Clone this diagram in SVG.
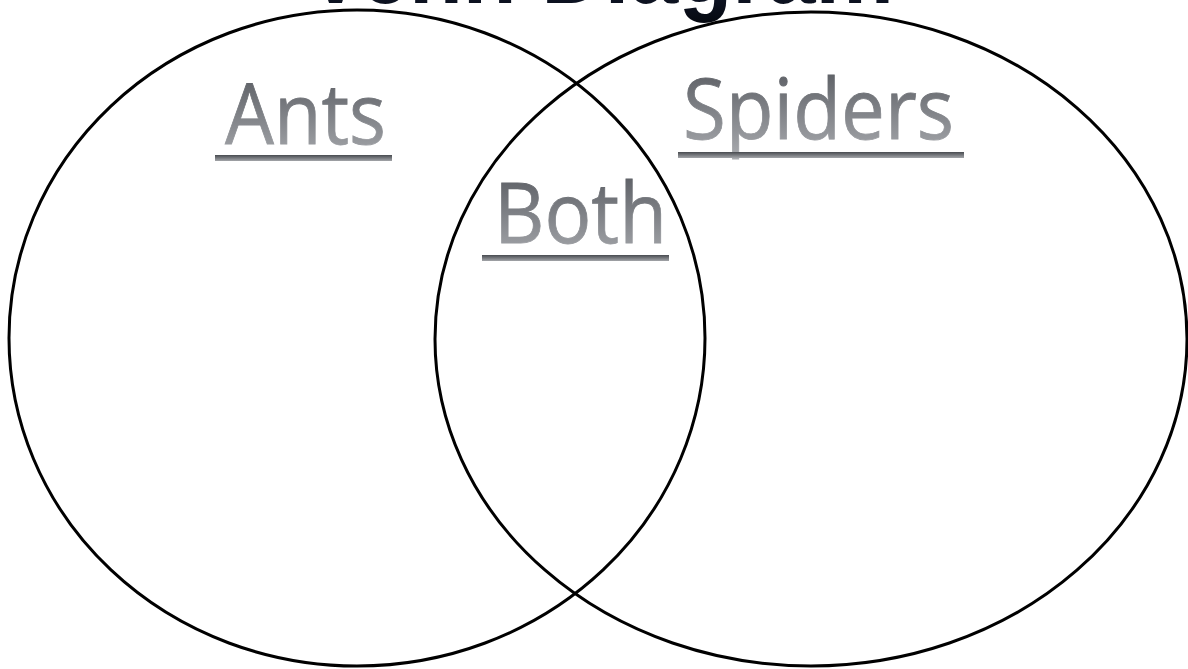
<svg xmlns="http://www.w3.org/2000/svg" width="1188" height="669" viewBox="0 0 1188 669">
  <defs>
    <linearGradient id="txt" x1="0" y1="0" x2="0" y2="1">
      <stop offset="0" stop-color="#4a4d53"/>
      <stop offset="1" stop-color="#aeb0b4"/>
    </linearGradient>
    <linearGradient id="ul" x1="0" y1="0" x2="0" y2="1">
      <stop offset="0" stop-color="#484b50"/>
      <stop offset="1" stop-color="#a3a5a9"/>
    </linearGradient>
    <linearGradient id="title" x1="0" y1="0" x2="0" y2="1">
      <stop offset="0" stop-color="#2a3a66"/>
      <stop offset="1" stop-color="#05080f"/>
    </linearGradient>
  </defs>
  <style>
    .circle { fill: none; stroke: #000; stroke-width: 3; }
    .label { font-family: "Open Sans", "Liberation Sans", sans-serif; font-size: 84px; fill: url(#txt); stroke: url(#txt); stroke-width: 0.8; }
    .uline { fill: url(#ul); }
    .title { font-family: "Liberation Sans", "DejaVu Sans", sans-serif; font-weight: bold; font-size: 99px; fill: url(#title); }
  </style>
  <rect width="1188" height="669" fill="#fff"/>
  <text class="title" x="306" y="3" textLength="588" lengthAdjust="spacingAndGlyphs">Venn Diagram</text>
  <g id="ants-circle">
    <ellipse class="circle" cx="357" cy="338" rx="348" ry="328"/>
  </g>
  <g id="spiders-circle">
    <ellipse class="circle" cx="811" cy="339" rx="376" ry="327"/>
  </g>
  <g id="ants-label">
    <text class="label" x="225" y="144" textLength="161" lengthAdjust="spacingAndGlyphs">Ants</text>
    <rect class="uline" x="215" y="155" width="177" height="6"/>
  </g>
  <g id="both-label">
    <text class="label" x="494" y="243" textLength="173" lengthAdjust="spacingAndGlyphs">Both</text>
    <rect class="uline" x="482" y="255" width="187" height="6"/>
  </g>
  <g id="spiders-label">
    <text class="label" x="683" y="139" textLength="271" lengthAdjust="spacingAndGlyphs">Spiders</text>
    <rect class="uline" x="678" y="152" width="286" height="6"/>
  </g>
  <g id="connectors"/>
</svg>
